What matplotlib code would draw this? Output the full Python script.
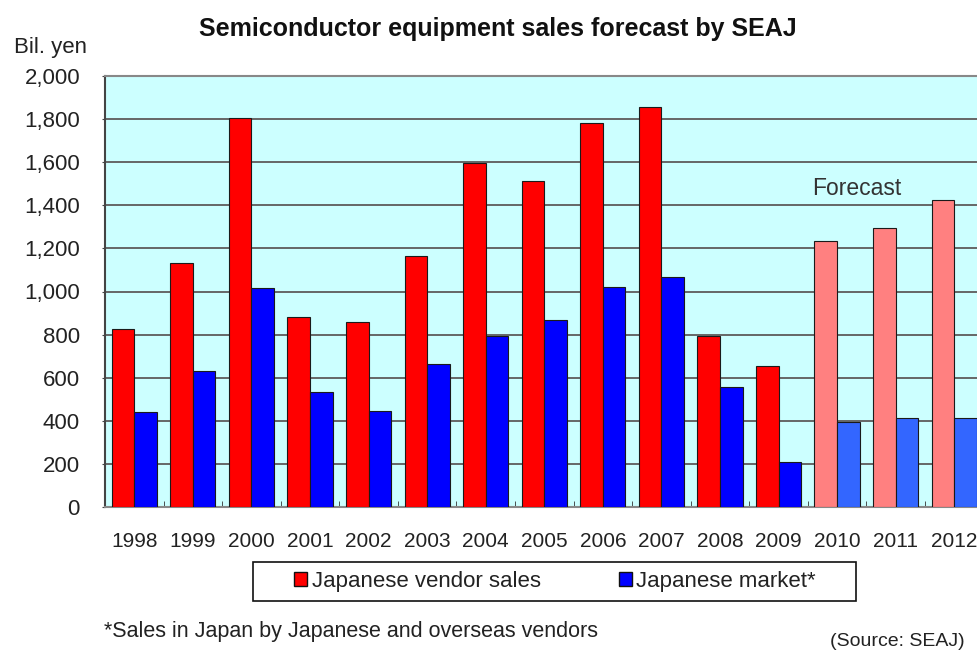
import numpy as np
import matplotlib
matplotlib.use("Agg")
import matplotlib.pyplot as plt
from matplotlib.patches import Patch, Rectangle
from matplotlib.ticker import FuncFormatter, FixedLocator

plt.rcParams['font.family'] = ['Liberation Sans', 'DejaVu Sans']

years = ["1998", "1999", "2000", "2001", "2002", "2003", "2004", "2005",
         "2006", "2007", "2008", "2009", "2010", "2011", "2012"]
vendor_sales = [825, 1134, 1807, 880, 857, 1166, 1598, 1514,
                1780, 1855, 795, 654, 1236, 1293, 1425]
japan_market = [442, 631, 1015, 535, 445, 664, 795, 868,
                1019, 1069, 558, 210, 396, 411, 411]
first_forecast = "2010"

red, blue = "#ff0000", "#0000ff"
red_fc, blue_fc = "#ff8080", "#3366ff"

W, H = 977, 652
fig = plt.figure(figsize=(W / 100, H / 100), dpi=100)
ax = fig.add_axes([105 / W, 1 - 507 / H, 878.5 / W, 431 / H])
ax.set_facecolor("#ccffff")

x = np.arange(len(years))
fc_start = years.index(first_forecast)
red_cols = [red if i < fc_start else red_fc for i in x]
blue_cols = [blue if i < fc_start else blue_fc for i in x]
w = 0.386
ax.bar(x - w / 2, vendor_sales, w, color=red_cols, edgecolor="#1a1a1a", linewidth=0.8, zorder=3)
ax.bar(x + w / 2, japan_market, w, color=blue_cols, edgecolor="#1a1a1a", linewidth=0.8, zorder=3)

ax.set_xlim(-0.5, len(years) - 0.5)
ax.set_ylim(0, 2000)
ax.set_yticks(np.arange(0, 2001, 200))
ax.yaxis.set_major_formatter(FuncFormatter(lambda v, p: f"{int(v):,}"))
ax.yaxis.grid(True, color="#666666", linewidth=1.4, zorder=1)
ax.set_axisbelow(True)

ax.set_xticks(x)
ax.set_xticklabels(years)
ax.xaxis.set_minor_locator(FixedLocator(x[:-1] + 0.5))
ax.tick_params(axis="x", which="major", length=0, pad=18, labelsize=15, colors="#222222")
ax.tick_params(axis="x", which="minor", length=4, direction="in", color="#333333")
ax.tick_params(axis="y", length=2, pad=16, labelsize=16, colors="#222222")
ax.tick_params(axis="y", color="#444444")

for side in ["top", "bottom"]:
    ax.spines[side].set_color("#888888")
    ax.spines[side].set_linewidth(1.5)
ax.spines["left"].set_color("#444444")
ax.spines["left"].set_linewidth(1.5)
ax.spines["right"].set_visible(False)

ax.text(12.34, 1480, "Forecast", ha="center", va="center", fontsize=16.5, color="#333333")

fig.text(498 / W, 1 - 29 / H, "Semiconductor equipment sales forecast by SEAJ",
         ha="center", va="center", fontsize=18, fontweight="bold", color="#111111")
fig.text(50 / W, 1 - 47 / H, "Bil. yen", ha="center", va="center", fontsize=16, color="#222222")

# legend box drawn by hand so it can be wider than the entries
fig.patches.append(Rectangle((253 / W, 1 - 601 / H), 603 / W, 39 / H, transform=fig.transFigure,
                             facecolor="white", edgecolor="#111111", linewidth=1.2, zorder=0))
handles = [Patch(facecolor=red, edgecolor="#111111", label="Japanese vendor sales"),
           Patch(facecolor=blue, edgecolor="#111111", label="Japanese market*")]
leg = fig.legend(handles=handles, loc="center", bbox_to_anchor=(555 / W, 1 - 581.5 / H),
                 ncol=2, fontsize=16, frameon=False, handlelength=0.6, handleheight=0.6,
                 handletextpad=0.2, columnspacing=3.5)
for t in leg.get_texts():
    t.set_color("#222222")

fig.text(104 / W, 1 - 631 / H, "*Sales in Japan by Japanese and overseas vendors",
         ha="left", va="center", fontsize=15.5, color="#222222")
fig.text(965 / W, 1 - 641 / H, "(Source: SEAJ)", ha="right", va="center",
         fontsize=14, color="#222222")

fig.savefig("out.png", dpi=100)
